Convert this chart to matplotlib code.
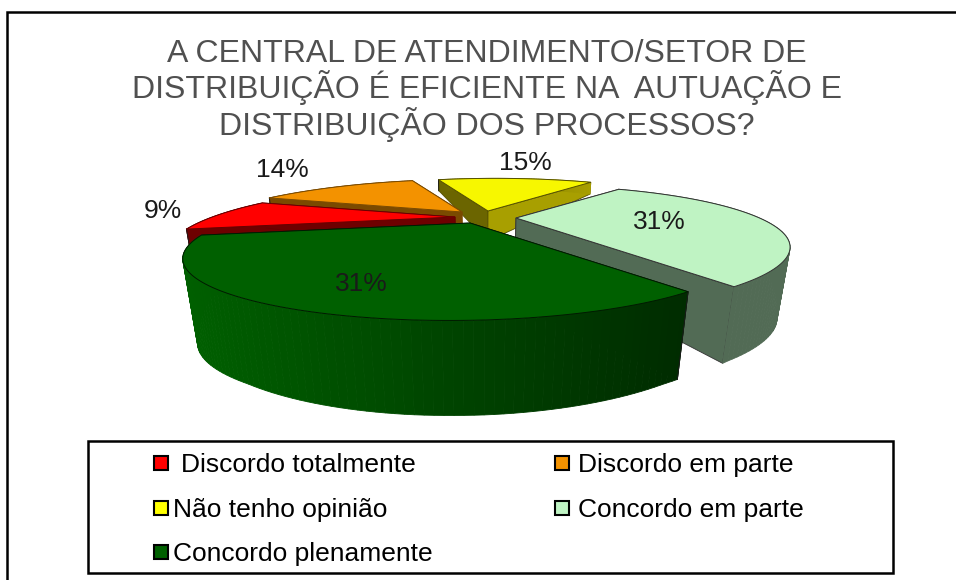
import numpy as np
import matplotlib
matplotlib.use("Agg")
import matplotlib.pyplot as plt
from matplotlib.patches import Polygon, Rectangle
from matplotlib.colors import to_rgb

plt.rcParams['font.family'] = ['Liberation Sans', 'DejaVu Sans']

# ---- data ----
title_lines = ["A CENTRAL DE ATENDIMENTO/SETOR DE",
               "DISTRIBUIÇÃO É EFICIENTE NA  AUTUAÇÃO E",
               "DISTRIBUIÇÃO DOS PROCESSOS?"]
categories = ["Discordo totalmente", "Discordo em parte", "Não tenho opinião",
              "Concordo em parte", "Concordo plenamente"]
values = [9, 14, 15, 31, 31]
labels = ["9%", "14%", "15%", "31%", "31%"]

# ---- styles ----
top_colors = ['#ff0000', '#f39200', '#f7f700', '#bff3c3', '#006000']
side_left = ['#6e0000', '#7a4a00', '#6b6500', '#526b55', '#005f00']
side_right = ['#6e0000', '#7a4a00', '#a89f00', '#526b55', '#002c00']
edge_colors = ['#660000', '#7a4a00', '#555000', '#333333', '#001a00']
legend_colors = ['#ff0000', '#f39200', '#ffff00', '#bff3c3', '#006000']
apexes = [(455, 217), (462, 212), (488, 211), (516, 218), (470, 223)]
label_xy = [(163, 211), (282, 170), (525, 163), (659, 222), (361, 284)]
draw_order = [2, 1, 0, 3, 4]
START_DEG = 254.86            # clockwise from the pie's back
A, K, B, M, P, R = 242.40, 21.00, 48.87, -2.05, 0.4976, -0.0226
DEPTH_BACK = ([181, 211, 250, 285, 296], [11, 30, 72, 76, 80])
DEPTH_FRONT = ([235, 255, 296, 320], [60, 85, 88, 95])


def project(theta):
    x, y = np.sin(theta), np.cos(theta)
    w = 1 + P * y + R * x
    return (A * x + K * y) / w, -(B * y + M * x) / w


def drop(xs, ys, table):
    d = np.interp(ys, table[0], table[1])
    return xs - 0.05 * (xs - 480) * d / 85, ys + d


def mix(c1, c2, f):
    return tuple(np.array(to_rgb(c1)) * (1 - f) + np.array(to_rgb(c2)) * f)


fig = plt.figure(figsize=(9.56, 5.8), dpi=100)
ax = fig.add_axes([0, 0, 1, 1])
ax.set_xlim(0, 956)
ax.set_ylim(580, 0)
ax.axis('off')

edges = np.radians(START_DEG + np.r_[0, np.cumsum(values)] * 360 / sum(values))

for layer, i in enumerate(draw_order):
    table = DEPTH_FRONT if i == 4 else DEPTH_BACK
    t = np.linspace(edges[i], edges[i + 1], 90)
    dx, dy = project(t)
    x0, y0 = apexes[i]
    xs, ys = x0 + dx, y0 + dy
    bx, by = drop(xs, ys, table)
    abx, aby = drop(np.array([float(x0)]), np.array([float(y0)]), table)
    z = 1 + layer * 3
    # radial side faces
    for j, col in ((0, side_left[i]), (-1, side_right[i] if i == 2 else side_left[i])):
        ax.add_patch(Polygon([(x0, y0), (xs[j], ys[j]), (bx[j], by[j]), (abx[0], aby[0])],
                             closed=True, facecolor=col, edgecolor=edge_colors[i],
                             linewidth=0.6, zorder=z))
    # outer wall, shaded from left to right
    for n in range(len(t) - 1):
        f = (0.5 * (xs[n] + xs[n + 1]) - xs.min()) / max(xs.max() - xs.min(), 1)
        c = mix(side_left[i], side_right[i], f)
        ax.add_patch(Polygon([(xs[n], ys[n]), (xs[n + 1], ys[n + 1]), (bx[n + 1], by[n + 1]), (bx[n], by[n])],
                             closed=True, facecolor=c, edgecolor=c, linewidth=0.6, zorder=z + 1))
    ax.plot([xs[0], bx[0]], [ys[0], by[0]], color='#1a1a1a', lw=0.7, zorder=z + 1)
    # top face
    ax.add_patch(Polygon(np.r_[[[x0, y0]], np.c_[xs, ys]], closed=True,
                         facecolor=top_colors[i], edgecolor=edge_colors[i], linewidth=0.7, zorder=z + 2))

for (x, y), s in zip(label_xy, labels):
    ax.text(x, y, s, fontsize=19, color='#1a1a1a', ha='center', va='center', zorder=40)

# title
for y, line in zip([62, 98, 135], title_lines):
    ax.text(487, y, line, fontsize=23, color='#505050', ha='center', va='baseline', zorder=40)

# chart frame: left and top only
ax.plot([7.5, 7.5, 956], [580, 11.5, 11.5], color='black', lw=1.8, zorder=50, solid_joinstyle='miter')

# legend
ax.add_patch(Rectangle((88, 441), 805, 132, facecolor='white', edgecolor='black', linewidth=1.8, zorder=41))
legend_pos = [(154, 456, 181), (555, 456, 578), (154, 501, 173), (555, 501, 578), (154, 545, 173)]
for (mx, my, tx), name, c in zip(legend_pos, categories, legend_colors):
    ax.add_patch(Rectangle((mx, my), 14, 14, facecolor=c, edgecolor='black', linewidth=1.5, zorder=42))
    ax.text(tx, my + 16, name, fontsize=19, color='black', ha='left', va='baseline', zorder=42)

fig.savefig('out.png', dpi=100)
